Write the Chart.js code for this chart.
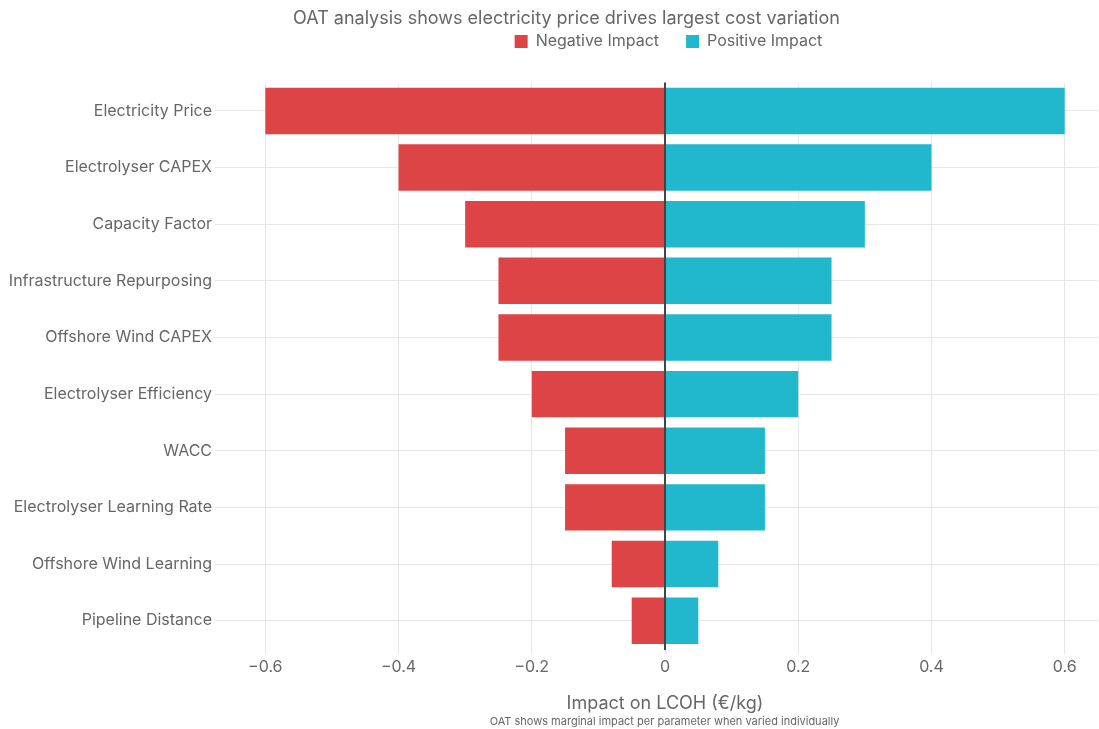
<!DOCTYPE html>
<html>
<head>
<meta charset="utf-8">
<title>OAT sensitivity</title>
<script src="https://cdn.jsdelivr.net/npm/chart.js@4.4.1/dist/chart.umd.min.js"></script>
<style>
    html, body { margin: 0; padding: 0; background: #fff; }
    #wrap { width: 1099px; height: 729px; }
</style>
</head>
<body>
<div id="wrap"><canvas id="tornadoChart"></canvas></div>
<script>
// --- Data ---
const parameters = [
    'Electricity Price',
    'Electrolyser CAPEX',
    'Capacity Factor',
    'Infrastructure Repurposing',
    'Offshore Wind CAPEX',
    'Electrolyser Efficiency',
    'WACC',
    'Electrolyser Learning Rate',
    'Offshore Wind Learning',
    'Pipeline Distance'
];
const negativeImpact = [-0.6, -0.4, -0.3, -0.25, -0.25, -0.2, -0.15, -0.15, -0.08, -0.05];
const positiveImpact = [0.6, 0.4, 0.3, 0.25, 0.25, 0.2, 0.15, 0.15, 0.08, 0.05];
const xTicks = [-0.6, -0.4, -0.2, 0, 0.2, 0.4, 0.6];

const TITLE = 'OAT analysis shows electricity price drives largest cost variation';
const NOTE = 'OAT shows marginal impact per parameter when varied individually';

const RED = '#DC4446';
const CYAN = '#21B8CE';
const TEXT = '#666666';
const GRID = '#E6E6E6';

Chart.defaults.font.family = 'Inter, "Noto Sans", sans-serif';
Chart.defaults.color = TEXT;

// zero line on top of the bars
const zeroLine = {
    id: 'zeroLine',
    afterDatasetsDraw(chart) {
        const x = Math.round(chart.scales.x.getPixelForValue(0));
        const { top, bottom } = chart.chartArea;
        const ctx = chart.ctx;
        ctx.save();
        ctx.strokeStyle = '#444444';
        ctx.lineWidth = 2;
        ctx.beginPath();
        ctx.moveTo(x, top);
        ctx.lineTo(x, bottom + 1);
        ctx.stroke();
        ctx.restore();
    }
};

// nudge title / legend / note to where they sit in the original
const placeBlocks = {
    id: 'placeBlocks',
    afterLayout(chart) {
        const mid = chart.width / 2;
        const plotMid = (chart.chartArea.left + chart.chartArea.right) / 2;
        const shift = (box, dx, dy) => {
            if (!box) return;
            box.left += dx; box.right += dx;
            box.top += dy; box.bottom += dy;
        };
        const note = chart.boxes.find(b => b.options && b.options.text === NOTE);
        shift(chart.titleBlock, 567 - mid, 0);
        shift(chart.legend, plotMid - mid + 4, -23);
        shift(note, plotMid - mid, 0);
    }
};

new Chart(document.getElementById('tornadoChart'), {
    type: 'bar',
    data: {
        labels: parameters,
        datasets: [
            {
                label: 'Negative Impact',
                data: negativeImpact,
                backgroundColor: RED,
                borderWidth: 0,
                categoryPercentage: 1,
                barPercentage: 0.82
            },
            {
                label: 'Positive Impact',
                data: positiveImpact,
                backgroundColor: CYAN,
                borderWidth: 0,
                categoryPercentage: 1,
                barPercentage: 0.82
            }
        ]
    },
    options: {
        indexAxis: 'y',
        responsive: true,
        maintainAspectRatio: false,
        animation: false,
        layout: { padding: { top: 0, right: 1, bottom: 0, left: 0 } },
        plugins: {
            title: {
                display: true,
                text: TITLE,
                color: TEXT,
                font: { size: 18, weight: 'normal' },
                padding: { top: 8, bottom: 0 }
            },
            legend: {
                position: 'top',
                labels: {
                    boxWidth: 13,
                    boxHeight: 13,
                    padding: 27,
                    color: TEXT,
                    font: { size: 16 }
                }
            },
            subtitle: {
                display: true,
                position: 'bottom',
                text: NOTE,
                color: TEXT,
                font: { size: 11 },
                padding: { top: 0, bottom: 1 }
            },
            tooltip: { enabled: false }
        },
        scales: {
            x: {
                stacked: true,
                min: -0.65,
                max: 0.65,
                afterBuildTicks: (axis) => {
                    axis.ticks = xTicks.map(v => ({ value: v }));
                },
                grid: { color: GRID, tickLength: 5, tickColor: GRID },
                border: { display: false },
                ticks: {
                    padding: 4,
                    color: TEXT,
                    font: { size: 16 },
                    callback: (v) => v === 0 ? '0' : (v < 0 ? '\u2212' : '') + Math.abs(v).toFixed(1)
                },
                title: {
                    display: true,
                    text: 'Impact on LCOH (€/kg)',
                    color: TEXT,
                    font: { size: 18 },
                    padding: { top: 12, bottom: 0 }
                }
            },
            y: {
                stacked: true,
                afterFit: (axis) => { axis.width = 232; },
                grid: { offset: false, color: GRID, tickLength: 17, tickColor: GRID },
                border: { display: false },
                ticks: {
                    padding: 3,
                    color: TEXT,
                    font: { size: 16 }
                }
            }
        }
    },
    plugins: [zeroLine, placeBlocks]
});
</script>
</body>
</html>
